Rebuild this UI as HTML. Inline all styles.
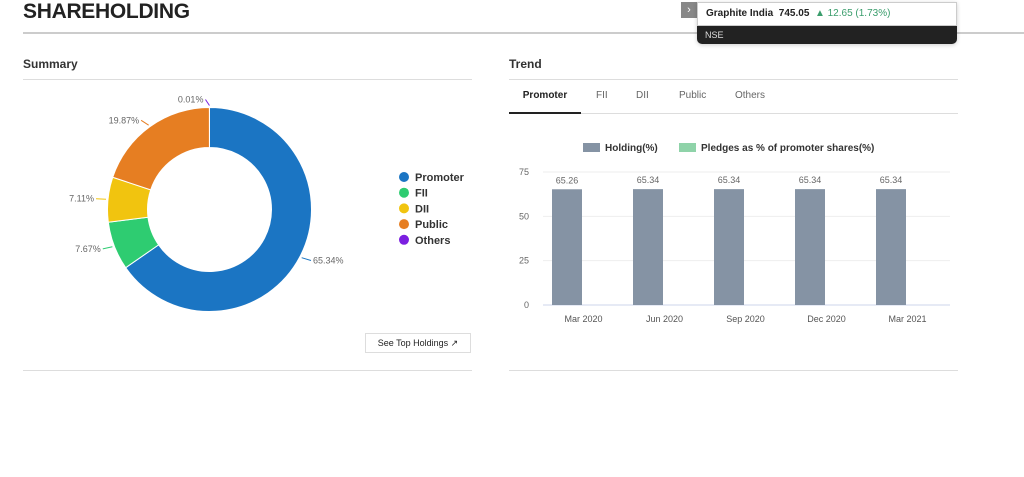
<!DOCTYPE html>
<html><head><meta charset="utf-8"><style>
body{margin:0;width:1024px;height:477px;background:#fff;font-family:"Liberation Sans",sans-serif;position:relative;overflow:hidden}
.a{position:absolute}
</style></head><body>
<div class="a" style="left:23px;top:0px;font-size:21px;font-weight:bold;color:#222;letter-spacing:-0.3px">SHAREHOLDING</div>
<div class="a" style="left:23px;top:32px;width:1001px;height:2px;background:#ccc"></div>
<div class="a" style="left:681px;top:2px;width:16px;height:16px;background:#888;color:#fff;font-size:11px;text-align:center;line-height:16px">›</div>
<div class="a" style="left:697px;top:2px;width:260px;height:42px;border-radius:0 0 5px 5px;background:#222;box-shadow:0 1px 4px rgba(0,0,0,.2)">
 <div style="height:22px;background:#fff;border:1px solid #ccc;font-size:10px;line-height:22px;padding-left:8px;color:#222"><b>Graphite India&nbsp; 745.05</b> &nbsp;<span style="color:#3a9d6c">▲ 12.65 (1.73%)</span></div>
 <div style="color:#ddd;font-size:9px;padding:4px 0 0 8px">NSE</div>
</div>
<div class="a" style="left:23px;top:57px;font-size:12px;font-weight:bold;color:#333">Summary</div>
<div class="a" style="left:23px;top:79px;width:449px;height:1px;background:#ddd"></div>
<div class="a" style="left:509px;top:57px;font-size:12px;font-weight:bold;color:#333">Trend</div>
<div class="a" style="left:509px;top:79px;width:449px;height:1px;background:#ddd"></div>
<div class="a" style="left:509px;top:113px;width:449px;height:1px;background:#ddd"></div>
<div class="a" style="left:509px;top:90px;width:72px;height:22px;border-bottom:2px solid #222;font-size:10px;font-weight:bold;text-align:center;color:#222">Promoter</div>
<div class="a" style="left:596px;top:90px;font-size:10px;color:#666">FII</div>
<div class="a" style="left:636px;top:90px;font-size:10px;color:#666">DII</div>
<div class="a" style="left:679px;top:90px;font-size:10px;color:#666">Public</div>
<div class="a" style="left:735px;top:90px;font-size:10px;color:#666">Others</div>
<div class="a" style="left:23px;top:370px;width:449px;height:1px;background:#ddd"></div>
<div class="a" style="left:509px;top:370px;width:449px;height:1px;background:#ddd"></div>
<div class="a" style="left:365px;top:333px;width:104px;height:18px;border:1px solid #ddd;font-size:9px;line-height:18px;text-align:center;color:#222">See Top Holdings ↗</div>
<svg class="a" style="left:0;top:0" width="1024" height="477" id="svg"></svg>
<script>
const pieLabels=["Promoter","FII","DII","Public","Others"];
const pieValues=[65.34,7.67,7.11,19.87,0.01];
const pieColors=["#1b75c3","#2ecc71","#f1c40f","#e67e22","#7b1fe0"];
const barCats=["Mar 2020","Jun 2020","Sep 2020","Dec 2020","Mar 2021"];
const holding=[65.26,65.34,65.34,65.34,65.34];
const pledges=[0,0,0,0,0];
const yTicks=[0,25,50,75];
const NS="http://www.w3.org/2000/svg",svg=document.getElementById('svg');
function mk(t,a,p){const e=document.createElementNS(NS,t);for(const k in a)e.setAttribute(k,a[k]);(p||svg).appendChild(e);return e;}
// donut
const cx=209.5,cy=209.5,R=102,r=62;let tot=pieValues.reduce((a,b)=>a+b,0),ang=0;
pieValues.forEach((v,i)=>{const a0=ang,a1=ang+v/tot*2*Math.PI;ang=a1;
 const P=(rad,a)=>[cx+rad*Math.sin(a),cy-rad*Math.cos(a)];const lg=a1-a0>Math.PI?1:0;
 const [x0,y0]=P(R,a0),[x1,y1]=P(R,a1),[x2,y2]=P(r,a1),[x3,y3]=P(r,a0);
 const s=mk('path',{d:`M${x0},${y0}A${R},${R} 0 ${lg} 1 ${x1},${y1}L${x2},${y2}A${r},${r} 0 ${lg} 0 ${x3},${y3}Z`,fill:pieColors[i],stroke:'#fff','stroke-width':1});
 
 
 const m=(a0+a1)/2,[lx,ly]=P(R+8,m),right=Math.sin(m)>=0;
 const t=mk('text',{x:lx+(right?6:-6),y:ly+3,'font-size':9,fill:'#666','text-anchor':right?'start':'end'});t.textContent=v.toFixed(2)+'%';
 
 
 mk('line',{x1:P(R+2,m)[0],y1:P(R+2,m)[1],x2:lx+(right?4:-4),y2:ly,stroke:pieColors[i]});
 const ly2=177+i*15.7;
 const c=mk('circle',{cx:404,cy:ly2,r:5,fill:pieColors[i]});
 
 
 const lt=mk('text',{x:415,y:ly2+4,'font-size':11,'font-weight':'bold',fill:'#333'});lt.textContent=pieLabels[i];
 
 
});
// bar chart
const x0=543,cw=81,y0=305,yTop=172,ymax=75;const Y=v=>y0-(v/ymax)*(y0-yTop);
yTicks.forEach(t=>{mk('line',{x1:543,x2:950,y1:Y(t),y2:Y(t),stroke:t?'#eee':'#ccd6eb'});
 const tx=mk('text',{x:529,y:Y(t)+3,'font-size':9,fill:'#666','text-anchor':'end'});tx.textContent=t;
 
 });
barCats.forEach((c,i)=>{const gx=x0+i*cw;
 const b=mk('rect',{x:gx+9,y:Y(holding[i]),width:30,height:y0-Y(holding[i]),fill:'#8593a4'});
 
 
 const p=mk('rect',{x:gx+40,y:Y(pledges[i]),width:30,height:y0-Y(pledges[i]),fill:'#8fd3a9'});
 
 
 const vl=mk('text',{x:gx+24,y:Y(holding[i])-6,'font-size':9,fill:'#666','text-anchor':'middle'});vl.textContent=holding[i].toFixed(2);
 
 
 const xl=mk('text',{x:gx+cw/2,y:322,'font-size':9,fill:'#555','text-anchor':'middle'});xl.textContent=c;
 
 });
// legend
const l1=mk('rect',{x:583,y:143,width:17,height:9,fill:'#8593a4'});


const lt1=mk('text',{x:605,y:151,'font-size':10,'font-weight':'bold',fill:'#333'});lt1.textContent='Holding(%)';


const l2=mk('rect',{x:679,y:143,width:17,height:9,fill:'#8fd3a9'});


const lt2=mk('text',{x:701,y:151,'font-size':10,'font-weight':'bold',fill:'#333'});lt2.textContent='Pledges as % of promoter shares(%)';


</script>
</body></html>
